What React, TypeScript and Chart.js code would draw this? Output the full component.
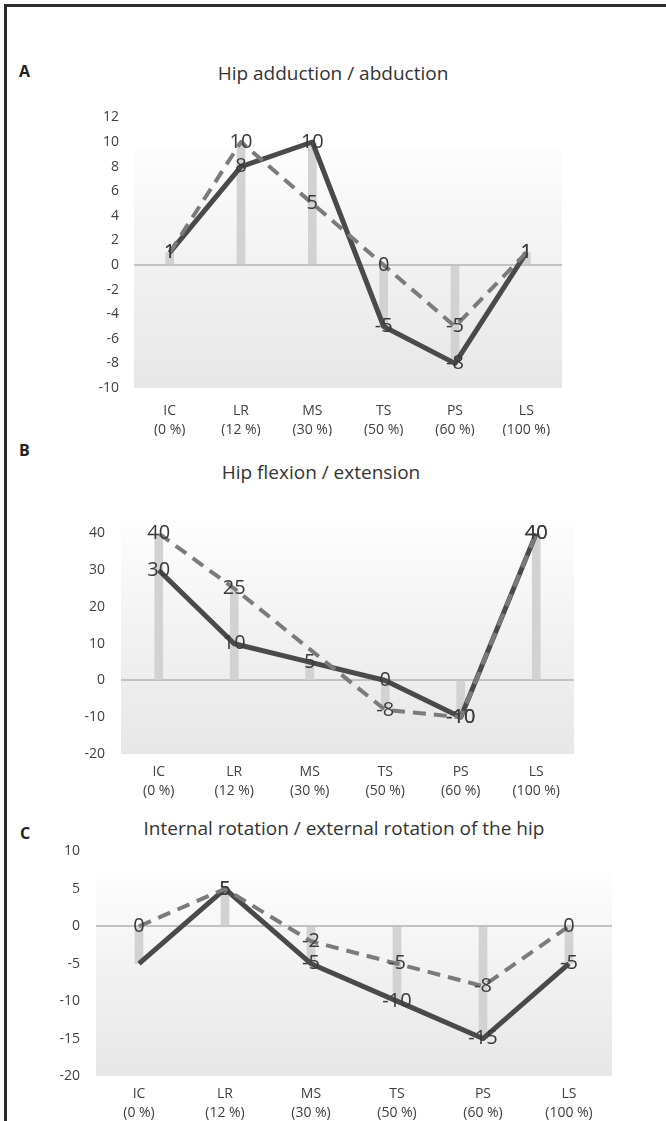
import React, { useEffect, useRef } from "react";
import { Chart, registerables } from "chart.js";

Chart.register(...registerables);

// ---- shared categories ----
const phases = ["IC", "LR", "MS", "TS", "PS", "LS"];
const phasePercents = ["(0 %)", "(12 %)", "(30 %)", "(50 %)", "(60 %)", "(100 %)"];

// ---- panel A: hip adduction / abduction ----
const titleA = "Hip adduction / abduction";
const solidA = [1, 8, 10, -5, -8, 1];
const dashedA = [1, 10, 5, 0, -5, 1];
const barsA = [1, 10, 10, -5, -8, 1];
const rangeA = [-10, 12, 2];
const hiddenSolidLabelsA: number[] = [];

// ---- panel B: hip flexion / extension ----
const titleB = "Hip flexion / extension";
const solidB = [30, 10, 5, 0, -10, 40];
const dashedB: (number | null)[] = [40, 25, null, -8, -10, 40];
const barsB = [40, 25, 5, -8, -10, 40];
const rangeB = [-20, 40, 10];
const hiddenSolidLabelsB: number[] = [];

// ---- panel C: internal / external rotation ----
const titleC = "Internal rotation / external rotation of the hip";
const solidC = [-5, 5, -5, -10, -15, -5];
const dashedC = [0, 5, -2, -5, -8, 0];
const barsC = [-5, 5, -5, -10, -15, -5];
const rangeC = [-20, 10, 5];
const hiddenSolidLabelsC: number[] = [0];

const FONT = "'Open Sans', 'Noto Sans', sans-serif";
const TEXT = "#404040";

const shadePlugin = {
  id: "shade",
  beforeDraw(chart: any, _args: any, opts: any) {
    const { ctx, chartArea } = chart;
    const ys = chart.scales.y;
    const top = ys.getPixelForValue(opts.top);
    const g = ctx.createLinearGradient(0, top, 0, chartArea.bottom);
    g.addColorStop(0, "#fdfdfd");
    g.addColorStop(0.5, "#f1f1f1");
    g.addColorStop(1, "#e7e7e7");
    ctx.save();
    ctx.fillStyle = g;
    ctx.fillRect(chartArea.left, top, chartArea.right - chartArea.left, chartArea.bottom - top);
    ctx.restore();
  },
};

const valueLabelPlugin = {
  id: "valueLabels",
  afterDatasetsDraw(chart: any, _args: any, opts: any) {
    const { ctx } = chart;
    const hidden: number[] = (opts && opts.hiddenSolid) || [];
    ctx.save();
    ctx.font = `20px ${FONT}`;
    ctx.fillStyle = "#3a3a3a";
    ctx.textAlign = "center";
    ctx.textBaseline = "middle";
    chart.data.datasets.forEach((ds: any, i: number) => {
      if (ds.type !== "line") return;
      const meta = chart.getDatasetMeta(i);
      meta.data.forEach((el: any, j: number) => {
        const v = ds.data[j];
        if (v === null || v === undefined) return;
        if (ds.label === "solid" && hidden.includes(j)) return;
        ctx.fillText(String(v), el.x, el.y);
      });
    });
    ctx.restore();
  },
};

type PanelProps = {
  top: number;
  height: number;
  solid: (number | null)[];
  dashed: (number | null)[];
  bars: number[];
  range: number[];
  hiddenSolid: number[];
  axisWidth: number;
  padRight: number;
  tickPad: number;
  xPad: number;
  shadeTop: number;
};

// canvas top sits 23px above the plot area; 8.4px of that is the automatic
// half-label room Chart.js reserves for the top y tick.
const PAD_TOP = 23 - 8.4;

function Panel(p: PanelProps) {
  const ref = useRef<HTMLCanvasElement | null>(null);
  useEffect(() => {
    if (!ref.current) return;
    const chart = new Chart(ref.current, {
      type: "bar",
      data: {
        labels: phases.map((ph, i) => [ph, phasePercents[i]]),
        datasets: [
          {
            type: "line",
            label: "dashed",
            data: p.dashed,
            borderColor: "#7b7b7b",
            borderWidth: 4,
            borderDash: [13, 8],
            borderJoinStyle: "round",
            pointRadius: 0,
            spanGaps: true,
            tension: 0,
            order: 1,
          } as any,
          {
            type: "line",
            label: "solid",
            data: p.solid,
            borderColor: "#4a4a4a",
            borderWidth: 5,
            borderJoinStyle: "round",
            pointRadius: 0,
            tension: 0,
            order: 2,
          } as any,
          {
            type: "bar",
            label: "bars",
            data: p.bars,
            backgroundColor: "#d2d2d2",
            barThickness: 8,
            order: 3,
          } as any,
        ],
      },
      options: {
        responsive: false,
        animation: false,
        events: [],
        layout: { padding: { left: 0, right: p.padRight, top: PAD_TOP, bottom: 0 } },
        plugins: {
          legend: { display: false },
          tooltip: { enabled: false },
          title: { display: false },
          shade: { top: p.shadeTop },
          valueLabels: { hiddenSolid: p.hiddenSolid },
        } as any,
        scales: {
          x: {
            grid: { display: false },
            border: { display: false },
            ticks: {
              color: TEXT,
              font: { family: FONT, size: 14, lineHeight: 1.4 },
              padding: p.xPad,
              maxRotation: 0,
              autoSkip: false,
            },
            afterFit: (s: any) => {
              s.height = 48;
            },
          },
          y: {
            min: p.range[0],
            max: p.range[1],
            ticks: {
              stepSize: p.range[2],
              color: TEXT,
              font: { family: FONT, size: 14, lineHeight: 1.2 },
              padding: p.tickPad,
            },
            grid: {
              drawTicks: false,
              lineWidth: 2,
              color: (ctx: any) => (ctx.tick && ctx.tick.value === 0 ? "#c2c2c2" : "rgba(0,0,0,0)"),
            },
            border: { display: false },
            afterFit: (s: any) => {
              s.width = p.axisWidth;
            },
          },
        } as any,
      },
      plugins: [shadePlugin, valueLabelPlugin],
    });
    return () => chart.destroy();
  }, []);
  return (
    <canvas
      ref={ref}
      width={666}
      height={p.height}
      style={{ position: "absolute", left: 0, top: p.top, width: 666, height: p.height }}
    />
  );
}

const letterStyle = (left: number, top: number): React.CSSProperties => ({
  position: "absolute",
  left,
  top,
  fontFamily: FONT,
  fontWeight: 700,
  fontSize: 16,
  lineHeight: "16px",
  color: "#222",
});

const titleStyle = (cx: number, cy: number): React.CSSProperties => ({
  position: "absolute",
  left: cx - 300,
  width: 600,
  top: cy - 12,
  textAlign: "center",
  fontFamily: FONT,
  fontSize: 19,
  lineHeight: "24px",
  color: "#333",
  whiteSpace: "nowrap",
});

export default function App() {
  // plot tops: A 117, B 532, C 850 ; plot bottoms: A 388, B 754, C 1076
  return (
    <div
      style={{
        position: "absolute",
        left: 0,
        top: 0,
        width: 666,
        height: 1121,
        overflow: "hidden",
        background: "#fff",
      }}
    >
      <div
        style={{
          position: "absolute",
          left: 4,
          top: 4,
          width: 662,
          height: 1117,
          boxSizing: "border-box",
          borderTop: "3px solid #2b2b2b",
          borderLeft: "3px solid #2b2b2b",
        }}
      />
      <div style={letterStyle(19, 63)}>A</div>
      <div style={titleStyle(333, 73)}>{titleA}</div>
      <div style={letterStyle(19, 442)}>B</div>
      <div style={titleStyle(321, 472)}>{titleB}</div>
      <div style={letterStyle(20, 825)}>C</div>
      <div style={titleStyle(344, 828)}>{titleC}</div>
      <Panel
        top={94}
        height={342}
        solid={solidA}
        dashed={dashedA}
        bars={barsA}
        range={rangeA}
        hiddenSolid={hiddenSolidLabelsA}
        axisWidth={134}
        padRight={104}
        tickPad={15}
        xPad={5}
        shadeTop={9.5}
      />
      <Panel
        top={509}
        height={293}
        solid={solidB}
        dashed={dashedB}
        bars={barsB}
        range={rangeB}
        hiddenSolid={hiddenSolidLabelsB}
        axisWidth={121}
        padRight={92}
        tickPad={16}
        xPad={0}
        shadeTop={42}
      />
      <Panel
        top={827}
        height={297}
        solid={solidC}
        dashed={dashedC}
        bars={barsC}
        range={rangeC}
        hiddenSolid={hiddenSolidLabelsC}
        axisWidth={96}
        padRight={54}
        tickPad={16}
        xPad={0}
        shadeTop={7}
      />
    </div>
  );
}
